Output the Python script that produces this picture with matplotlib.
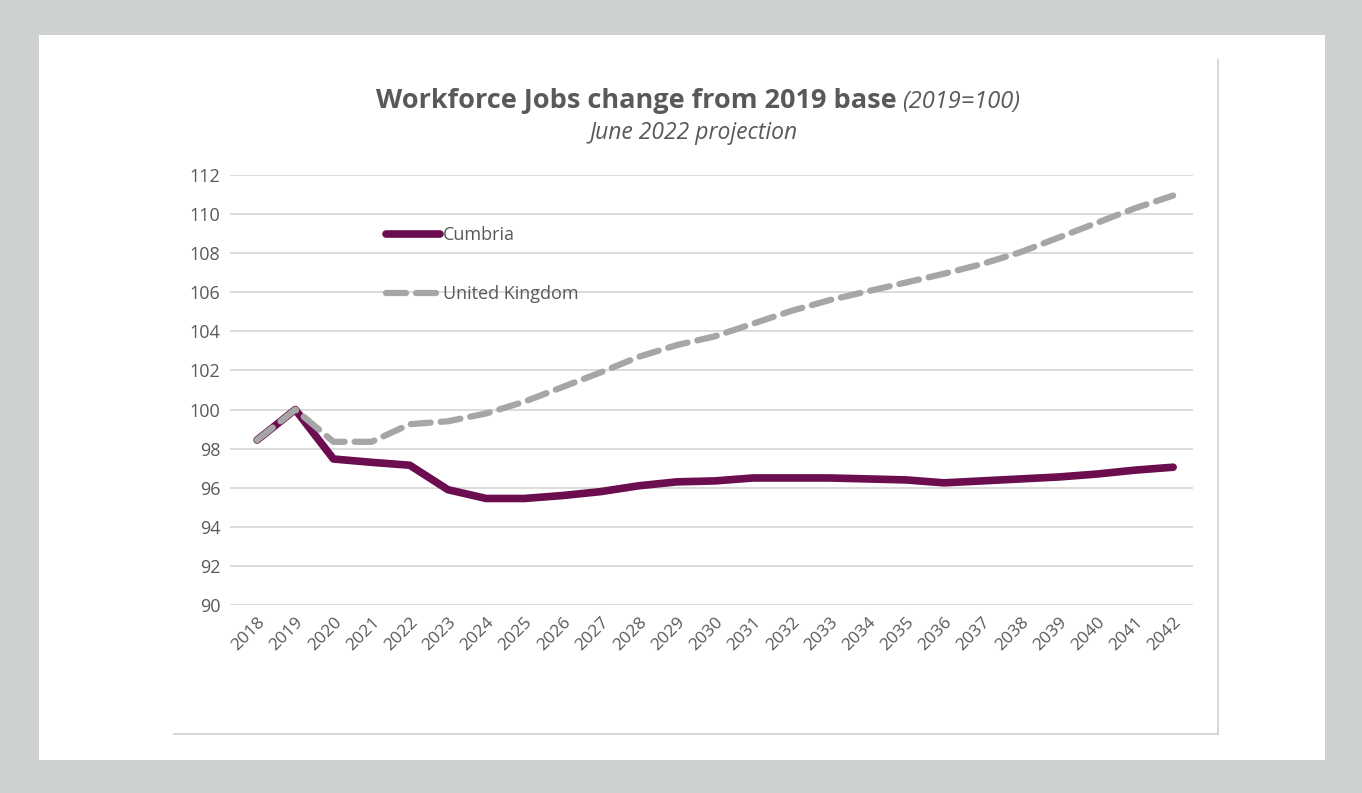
import matplotlib
matplotlib.use("Agg")
import matplotlib.pyplot as plt
from matplotlib.patches import Rectangle
from matplotlib.lines import Line2D

years = list(range(2018, 2043))
cumbria = [98.44, 100.0, 97.47, 97.3, 97.15, 95.9, 95.45, 95.45, 95.6, 95.8,
           96.1, 96.3, 96.35, 96.5, 96.5, 96.5, 96.45, 96.4, 96.25, 96.35,
           96.45, 96.55, 96.7, 96.9, 97.05]
uk = [98.44, 100.0, 98.35, 98.35, 99.25, 99.4, 99.8, 100.4, 101.15, 101.9,
      102.7, 103.3, 103.75, 104.4, 105.05, 105.6, 106.05, 106.5, 106.95, 107.45,
      108.05, 108.8, 109.55, 110.3, 110.95]
yticks = list(range(90, 113, 2))

FONT = ["Open Sans", "DejaVu Sans"]
plt.rcParams['font.family'] = FONT
TXT = "#595959"
W, H = 1362, 793

fig = plt.figure(figsize=(W / 100, H / 100), dpi=100)
fig.patch.set_facecolor("#CDD1D2")

# white panel
fig.add_artist(Rectangle((39 / W, 1 - 760 / H), (1325 - 39) / W, (760 - 35) / H,
                         transform=fig.transFigure, facecolor="white",
                         edgecolor="none", zorder=0))
# chart frame (right and bottom edges)
fig.add_artist(Line2D([1218 / W, 1218 / W], [1 - 60 / H, 1 - 734 / H],
                      transform=fig.transFigure, color="#D0D0D0", lw=1.2))
fig.add_artist(Line2D([174 / W, 1218 / W], [1 - 734 / H, 1 - 734 / H],
                      transform=fig.transFigure, color="#D0D0D0", lw=1.2))

ax = fig.add_axes([230 / W, 1 - 605 / H, (1193 - 230) / W, (605 - 175) / H])
ax.set_facecolor("none")
ax.set_xlim(2017.29, 2042.52)
ax.set_ylim(90, 112)
ax.set_yticks(yticks)
ax.set_yticklabels([str(v) for v in yticks], color=TXT, fontsize=13)
ax.set_xticks(years)
ax.set_xticklabels([str(y) for y in years], rotation=45, ha="right",
                   rotation_mode="anchor", color=TXT, fontsize=12.5)
ax.tick_params(axis="both", length=0)
ax.tick_params(axis="y", pad=7)
ax.tick_params(axis="x", pad=7)
for s in ax.spines.values():
    s.set_visible(False)
ax.grid(axis="y", color="#D9D9D9", lw=1.3)
ax.set_axisbelow(True)

l1, = ax.plot(years, cumbria, color="#6B0D4F", lw=5.5, solid_capstyle="round",
              solid_joinstyle="round", label="Cumbria", zorder=3)
l2, = ax.plot(years, uk, color="#A6A6A6", lw=4.5, dashes=(3.2, 1.6),
              dash_capstyle="round", label="United Kingdom", zorder=4)

leg = ax.legend(handles=[l1, l2], loc="upper left",
                bbox_to_anchor=((370 - 230) / (1193 - 230), (605 - 210) / (605 - 175)),
                frameon=False, fontsize=13, labelspacing=2.25, handlelength=3.0,
                handletextpad=0.15)
for t in leg.get_texts():
    t.set_color(TXT)

fig.text(897 / W, 1 - 101 / H, "Workforce Jobs change from 2019 base", ha="right",
         va="center", fontsize=19.5, fontweight="bold", color=TXT)
fig.text(902 / W, 1 - 102 / H, "(2019=100)", ha="left", va="center",
         fontsize=17, style="italic", color=TXT)
fig.text(694 / W, 1 - 133 / H, "June 2022 projection", ha="center", va="center",
         fontsize=16.5, style="italic", color=TXT)

fig.savefig("out.png", dpi=100, facecolor=fig.get_facecolor())
